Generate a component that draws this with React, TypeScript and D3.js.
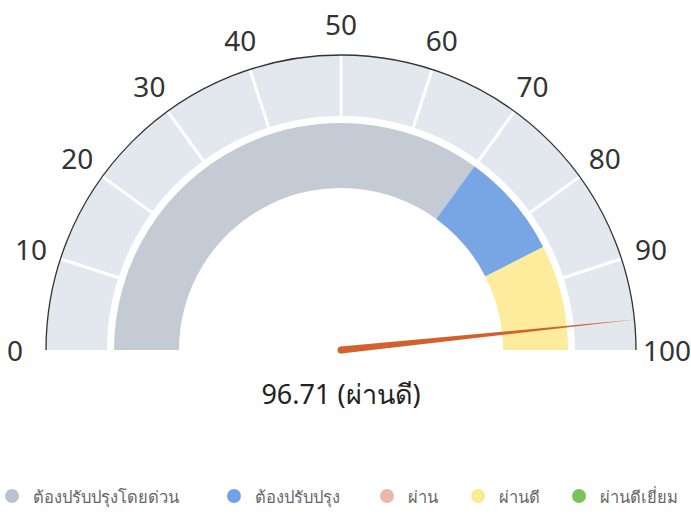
// Gauge chart: ผลคะแนน 96.71 (ผ่านดี)
import * as d3 from 'd3'

const tickValues = [0, 10, 20, 30, 40, 50, 60, 70, 80, 90, 100]
const bandFrom = [0, 70, 85]
const bandTo = [70, 85, 100]
const bandColors = ['#c4cbd4', '#78a6e4', '#fcec9c']
const gaugeValue = 96.71
const gaugeLabel = 'ผ่านดี'
const legendLabels = ['ต้องปรับปรุงโดยด่วน', 'ต้องปรับปรุง', 'ผ่าน', 'ผ่านดี', 'ผ่านดีเยี่ยม']
const legendColors = ['#b9c3ce', '#6fa2e6', '#e9b8a9', '#fbeb8e', '#7dc35b']
const legendX = [12, 234, 387, 478, 579]

const W = 691
const H = 515
const cx = 341
const cy = 350
const font = '"Noto Sans", "DejaVu Sans", sans-serif'

export default function App() {
  const angle = d3.scaleLinear().domain([0, 100]).range([-Math.PI / 2, Math.PI / 2])
  const rOuter = 295
  const rTrackIn = 234
  const rBandOut = 227
  const rBandIn = 162
  const rLabel = 326

  const arc = d3.arc<any>()
  const track = arc({ innerRadius: rTrackIn, outerRadius: rOuter, startAngle: angle(0), endAngle: angle(100) }) as string
  const outline = d3.arc<any>()({ innerRadius: rOuter, outerRadius: rOuter, startAngle: angle(0), endAngle: angle(100) }) as string

  const pt = (v: number, r: number) => {
    const a = angle(v)
    return [r * Math.sin(a), -r * Math.cos(a)]
  }

  // needle (tapered)
  const a = angle(gaugeValue)
  const tip = pt(gaugeValue, 296)
  const px = Math.cos(a), py = Math.sin(a)
  const hw = 3.5
  const needle = `M${px * hw},${py * hw} L${tip[0]},${tip[1]} L${-px * hw},${-py * hw} Z`

  return (
    <svg width={W} height={H} style={{ position: 'absolute', left: 0, top: 0, background: '#fff' }}>
      <g transform={`translate(${cx},${cy})`}>
        <path d={track} fill="#e3e7ee" />
        {tickValues.slice(1, -1).map(v => {
          const p1 = pt(v, rTrackIn - 1)
          const p2 = pt(v, rOuter + 1)
          return <line key={v} x1={p1[0]} y1={p1[1]} x2={p2[0]} y2={p2[1]} stroke="#fff" strokeWidth={3} />
        })}
        <path d={outline} fill="none" stroke="#333" strokeWidth={1.3} />
        {bandFrom.map((f, i) => (
          <path key={i}
            d={arc({ innerRadius: rBandIn, outerRadius: rBandOut, startAngle: angle(f), endAngle: angle(bandTo[i]) }) as string}
            fill={bandColors[i]} />
        ))}
        {tickValues.map(v => {
          const p = pt(v, rLabel)
          return (
            <text key={v} x={p[0]} y={p[1]} textAnchor="middle" dominantBaseline="central"
              fontFamily={font} fontSize={28} fill="#333">{v}</text>
          )
        })}
        <path d={needle} fill="#d4612c" />
        <circle r={hw} fill="#d4612c" />
        <text x={0} y={43} textAnchor="middle" dominantBaseline="central" fontFamily={font} fontSize={27} fill="#222">
          {`${gaugeValue} (${gaugeLabel})`}
        </text>
      </g>
      <g transform="translate(0,496)">
        {legendLabels.map((l, i) => (
          <g key={l} transform={`translate(${legendX[i]},0)`}>
            <circle r={7} fill={legendColors[i]} />
            <text x={21} y={0} dominantBaseline="central" fontFamily={font} fontSize={16.5} fill="#666">{l}</text>
          </g>
        ))}
      </g>
    </svg>
  )
}
